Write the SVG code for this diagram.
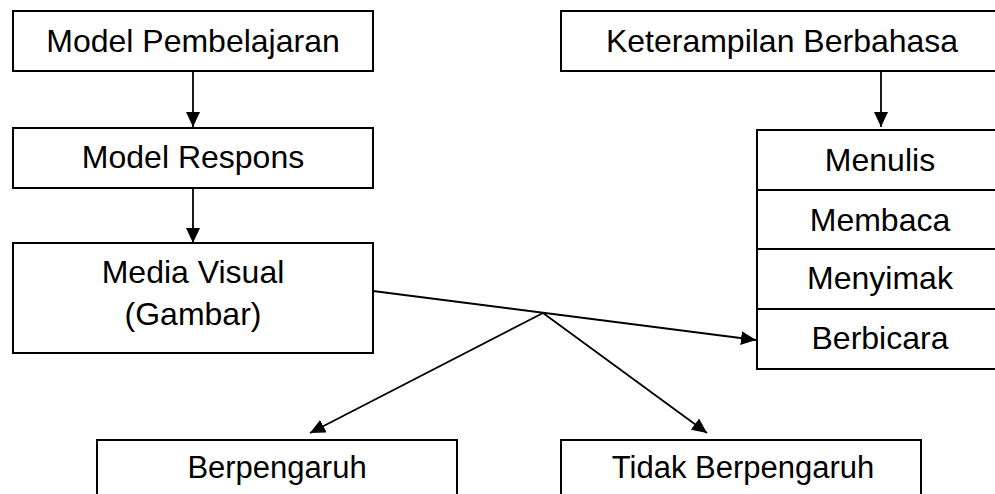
<svg xmlns="http://www.w3.org/2000/svg" width="995" height="494" viewBox="0 0 995 494">
<style>
.box{fill:#fff;stroke:#000;stroke-width:2}
.t{font-family:"Liberation Sans",Arial,sans-serif;font-size:32px;fill:#000;text-anchor:middle}
.c{stroke:#000;stroke-width:1.8;fill:none}
</style>
<defs>
<marker id="ah" markerWidth="15" markerHeight="14" refX="15" refY="7" orient="auto" markerUnits="userSpaceOnUse">
<path d="M0,0 L15,7 L0,14 Z" fill="#000"/>
</marker>
</defs>
<rect width="995" height="494" fill="#fff"/>
<g id="model-pembelajaran">
<rect class="box" x="13" y="11" width="360" height="60"/>
<text class="t" x="193" y="52">Model Pembelajaran</text>
</g>
<g id="model-respons">
<rect class="box" x="13" y="128" width="360" height="60"/>
<text class="t" x="193" y="168">Model Respons</text>
</g>
<g id="media-visual">
<rect class="box" x="13" y="243" width="360" height="110"/>
<text class="t" x="193" y="283">Media Visual</text>
<text class="t" x="193" y="325">(Gambar)</text>
</g>
<g id="keterampilan">
<rect class="box" x="561" y="11" width="443" height="60"/>
<text class="t" x="782" y="52">Keterampilan Berbahasa</text>
</g>
<g id="menulis">
<rect class="box" x="757" y="130" width="247" height="60"/>
<text class="t" x="880" y="171">Menulis</text>
</g>
<g id="membaca">
<rect class="box" x="757" y="190" width="247" height="59"/>
<text class="t" x="880" y="231">Membaca</text>
</g>
<g id="menyimak">
<rect class="box" x="757" y="249" width="247" height="60"/>
<text class="t" x="880" y="289">Menyimak</text>
</g>
<g id="berbicara">
<rect class="box" x="757" y="309" width="247" height="60"/>
<text class="t" x="880" y="349">Berbicara</text>
</g>
<g id="berpengaruh">
<rect class="box" x="97" y="440" width="360" height="70"/>
<text class="t" x="277" y="478" style="font-size:31px">Berpengaruh</text>
</g>
<g id="tidak-berpengaruh">
<rect class="box" x="561" y="440" width="360" height="70"/>
<text class="t" x="743" y="478" style="font-size:31px">Tidak Berpengaruh</text>
</g>
<g id="connectors">
<line class="c" x1="193" y1="71" x2="193" y2="127" marker-end="url(#ah)"/>
<line class="c" x1="193" y1="188" x2="193" y2="243" marker-end="url(#ah)"/>
<line class="c" x1="881" y1="71" x2="881" y2="127" marker-end="url(#ah)"/>
<line class="c" x1="373" y1="291" x2="756" y2="340" marker-end="url(#ah)"/>
<line class="c" x1="543" y1="313" x2="310" y2="433" marker-end="url(#ah)"/>
<line class="c" x1="543" y1="313" x2="707" y2="433" marker-end="url(#ah)"/>
</g>
</svg>
